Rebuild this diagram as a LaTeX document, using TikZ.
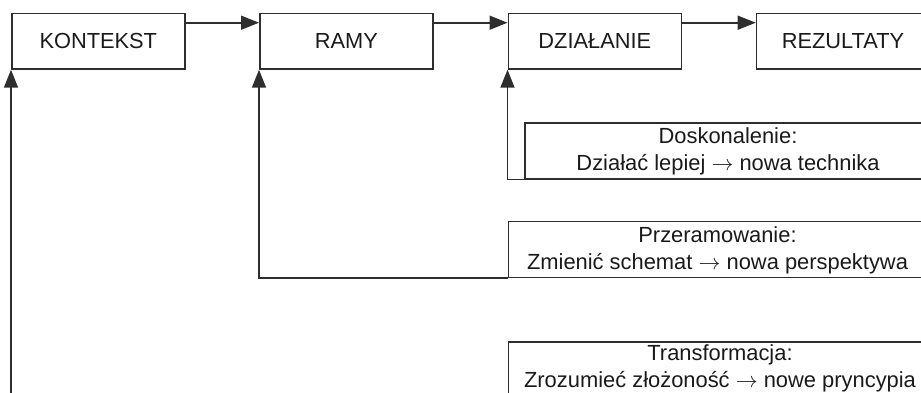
\documentclass[tikz,border=0pt]{standalone}
\usepackage{fontspec}
\setmainfont{Liberation Sans}
\usetikzlibrary{arrows.meta}
\definecolor{ln}{HTML}{2E2E2E}
\definecolor{tx}{HTML}{1A1A1A}
\tikzset{
  topbox/.style={draw=ln, line width=0.8pt, minimum width=86.5pt, minimum height=27.7pt, inner sep=0pt, anchor=north west, text=tx, font=\fontsize{10.9}{13}\selectfont},
  lowbox/.style={draw=ln, line width=0.8pt, minimum width=250pt, minimum height=28pt, inner sep=0pt, anchor=north west},
  lowtext/.style={align=center, text=tx, inner sep=0pt, font=\fontsize{10.95}{13.5}\selectfont},
  arr/.style={draw=ln, line width=0.8pt, -{Triangle[length=9pt,width=7pt]}}
}
\begin{document}
\begin{tikzpicture}[x=0.5pt,y=-0.5pt]
\useasboundingbox (0,0) rectangle (921,392);
\clip (0,0) rectangle (921,392);
% top row
\node[topbox] (kont) at (11,12.7) {KONTEKST};
\node[topbox] (ramy) at (259,12.7) {RAMY};
\node[topbox] (dzial) at (507.5,12.7) {DZIAŁANIE};
\node[topbox] (rez) at (755.7,12.7) {REZULTATY};
\draw[arr] ([yshift=-5pt]kont.north east) -- ([yshift=-5pt]ramy.north west);
\draw[arr] ([yshift=-5pt]ramy.north east) -- ([yshift=-5pt]dzial.north west);
\draw[arr] ([yshift=-5pt]dzial.north east) -- ([yshift=-5pt]rez.north west);
% lower boxes
\node[lowbox] (dosk) at (524,122) {};
\node[lowbox] (prze) at (507.5,220.5) {};
\node[lowbox] (trans) at (507.5,341) {};
\node[lowtext] (dosktxt) at (728,151.5) {Doskonalenie:\\Działać lepiej $\rightarrow$ nowa technika};
\node[lowtext] (prezetxt) at (717.5,250) {Przeramowanie:\\Zmienić schemat $\rightarrow$ nowa perspektywa};
\node[lowtext] (transtxt) at (720,368.5) {Transformacja:\\Zrozumieć złożoność $\rightarrow$ nowe pryncypia};
% feedback connectors
\draw[arr] (dosk.south west) -| (dzial.south west);
\draw[arr] (prze.south west) -| (ramy.south west);
\draw[arr] (trans.south west) -| (kont.south west);
\end{tikzpicture}
\end{document}
